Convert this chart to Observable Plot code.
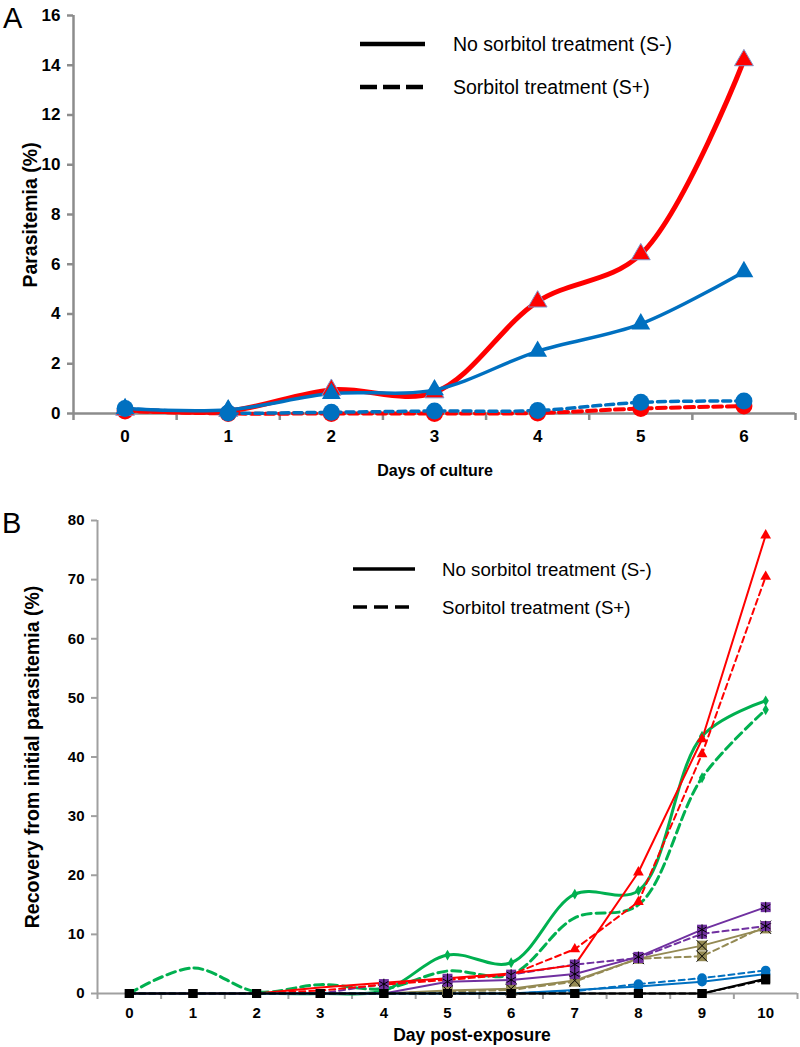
<!DOCTYPE html>
<html><head><meta charset="utf-8">
<script src="https://cdn.jsdelivr.net/npm/d3@7"></script>
<script src="https://cdn.jsdelivr.net/npm/@observablehq/plot@0.6"></script>
<style>
body{margin:0;background:#fff}
#wrap{position:relative;width:800px;height:1047px;font-family:"Liberation Sans",Arial,sans-serif}
#wrap svg{display:block}
#overlay{position:absolute;left:0;top:0;pointer-events:none}
</style>
</head><body>
<div id="wrap"><div id="a"></div><div id="b"></div></div>
<script>
// ---------- Panel A data ----------
const daysA = [0, 1, 2, 3, 4, 5, 6];
const aRedSolid  = [0.15, 0.10, 0.95, 0.85, 4.5, 6.4, 14.2];
const aBlueSolid = [0.20, 0.15, 0.80, 0.95, 2.5, 3.6, 5.7];
const aRedDash   = [0.10, 0.00, 0.00, 0.00, 0.02, 0.20, 0.30];
const aBlueDash  = [0.20, 0.02, 0.05, 0.10, 0.12, 0.45, 0.50];
const ticksYA = [0, 2, 4, 6, 8, 10, 12, 14, 16];

// ---------- Panel B data ----------
const daysB = [0, 1, 2, 3, 4, 5, 6, 7, 8, 9, 10];
const bRedSolid    = [0, 0, 0, 1.0, 1.8, 2.6, 3.4, 4.8, 20.5, 43.0, 77.5];
const bRedDash     = [0, 0, 0, 0.5, 1.5, 2.3, 3.2, 7.5, 15.5, 40.5, 70.5];
const bGreenSolid  = [0, 0, 0, 0, 0.5, 6.5, 5.2, 16.8, 17.4, 43.5, 49.5];
const bGreenDash   = [0, 4.3, 0.3, 1.5, 0.8, 3.8, 3.2, 12.8, 15.0, 36.5, 48.0];
const bPurpleSolid = [0, 0, 0, 0, 0, 2.0, 2.3, 3.3, 6.2, 10.8, 14.6];
const bPurpleDash  = [0, 0, 0, 0, 1.6, 2.5, 3.2, 4.9, 6.0, 10.1, 11.4];
const bTanSolid    = [0, 0, 0, 0, 0, 0.5, 0.8, 2.2, 5.9, 8.1, 11.0];
const bTanDash     = [0, 0, 0, 0, 0, 0.3, 0.6, 2.0, 5.9, 6.3, 11.4];
const bBlueSolid   = [0, 0, 0, 0, 0, 0, 0, 0.6, 1.2, 2.0, 3.3];
const bBlueDash    = [0, 0, 0, 0, 0, 0, 0, 0.4, 1.6, 2.6, 3.9];
const bBlackSolid  = [0, 0, 0, 0, 0, 0, 0, 0, 0, 0, 2.5];
const bBlackDash   = [0, 0, 0, 0, 0, 0, 0, 0, 0, 0, 2.3];
const ticksYB = [0, 10, 20, 30, 40, 50, 60, 70, 80];

const legendLabels = ["No sorbitol treatment (S-)", "Sorbitol treatment (S+)"];

// ---------- styles ----------
const RED = "#FF0000", BLUE = "#0070C0", GREEN = "#00B050", PURPLE = "#7030A0", TAN = "#948A54";
const FONT = "'Liberation Sans', Arial, sans-serif";
const fmtInt = d3.format("d");
const rows = (days, vals) => days.map((d, i) => ({day: d, value: vals[i]}));

const seriesA = [
  {vals: aRedDash,   color: RED,  width: 4,   dash: "9,5", symbol: "circle",   r: 8.5, stroke: "none"},
  {vals: aBlueDash,  color: BLUE, width: 3.5, dash: "8,5", symbol: "circle",   r: 8.5, stroke: "none"},
  {vals: aRedSolid,  color: RED,  width: 5,   dash: null,  symbol: "triangle", r: 7,   stroke: "#7f93c8"},
  {vals: aBlueSolid, color: BLUE, width: 3.5, dash: null,  symbol: "triangle", r: 7,   stroke: "none"}
];

const axisGrayA = "#8c8c8c";
const marksA = [
  Plot.ruleX([-0.5], {y1: 0, y2: 16, stroke: axisGrayA, strokeWidth: 2.5}),
  Plot.ruleY([0], {x1: -0.5, x2: 6.5, stroke: axisGrayA, strokeWidth: 2.5}),
  Plot.axisY({ticks: ticksYA, tickSize: 6, tickPadding: 7, tickFormat: fmtInt, stroke: axisGrayA, strokeWidth: 2.5,
              fontSize: 17, fontWeight: "bold", fill: "#000", label: null}),
  Plot.axisX({ticks: [-0.5, 0.5, 1.5, 2.5, 3.5, 4.5, 5.5, 6.5], tickSize: 7, tickFormat: () => "",
              stroke: axisGrayA, strokeWidth: 2.5, label: null}),
  Plot.axisX({ticks: daysA, tickSize: 0, tickPadding: 16, tickFormat: fmtInt, fontSize: 17, fontWeight: "bold",
              fill: "#000", label: null})
];
for (const s of seriesA) {
  marksA.push(Plot.line(rows(daysA, s.vals), {x: "day", y: "value", stroke: s.color, strokeWidth: s.width,
    strokeDasharray: s.dash, curve: "catmull-rom"}));
}
for (const idx of [0, 2, 1, 3]) {
  const s = seriesA[idx];
  marksA.push(Plot.dot(rows(daysA, s.vals), {x: "day", y: "value", symbol: s.symbol, r: s.r,
    fill: s.color, stroke: s.stroke, strokeWidth: 1}));
}

const plotA = Plot.plot({
  width: 800, height: 480, marginTop: 15, marginBottom: 67, marginLeft: 73, marginRight: 5,
  x: {domain: [-0.5, 6.5]}, y: {domain: [0, 16]},
  style: {fontFamily: FONT, fontSize: "17px", fontWeight: "bold", background: "#fff", color: "#000", overflow: "visible"},
  marks: marksA
});
document.getElementById("a").appendChild(plotA);

// ---------- Panel B ----------
const seriesB = [
  {vals: bGreenDash,   color: GREEN,  width: 3,   dash: "9,5", curve: "catmull-rom", symbol: "diamond", r: 3.3, from: 9},
  {vals: bGreenSolid,  color: GREEN,  width: 3,   dash: null,  curve: "catmull-rom", symbol: "diamond", r: 3.3, from: 5},
  {vals: bTanDash,     color: TAN,    width: 2,   dash: "6,4", curve: "linear", symbol: "square", r: 5.6, from: 5, over: "times"},
  {vals: bTanSolid,    color: TAN,    width: 2,   dash: null,  curve: "linear", symbol: "square", r: 5.6, from: 5, over: "times"},
  {vals: bPurpleDash,  color: PURPLE, width: 2,   dash: "6,4", curve: "linear", symbol: "square", r: 5.6, from: 4, over: "asterisk"},
  {vals: bPurpleSolid, color: PURPLE, width: 2,   dash: null,  curve: "linear", symbol: "square", r: 5.6, from: 5, over: "asterisk"},
  {vals: bRedDash,     color: RED,    width: 2,   dash: "6,4", curve: "linear", symbol: "triangle", r: 4, from: 7},
  {vals: bRedSolid,    color: RED,    width: 2,   dash: null,  curve: "linear", symbol: "triangle", r: 4, from: 8},
  {vals: bBlueDash,    color: BLUE,   width: 2,   dash: "6,4", curve: "linear", symbol: "circle", r: 4.8, from: 8},
  {vals: bBlueSolid,   color: BLUE,   width: 2,   dash: null,  curve: "linear", symbol: "circle", r: 4.8, from: 8},
  {vals: bBlackDash,   color: "#000", width: 2,   dash: "6,4", curve: "linear", symbol: "square", r: 5.1, from: 0},
  {vals: bBlackSolid,  color: "#000", width: 2,   dash: null,  curve: "linear", symbol: "square", r: 5.1, from: 0}
];
const axisGrayB = "#a0a0a0";
const marksB = [
  Plot.ruleX([-0.5], {y1: 0, y2: 80, stroke: axisGrayB, strokeWidth: 2}),
  Plot.ruleY([0], {x1: -0.5, x2: 10.5, stroke: axisGrayB, strokeWidth: 2}),
  Plot.axisY({ticks: ticksYB, tickSize: 6, tickPadding: 7, tickFormat: fmtInt, stroke: axisGrayB, strokeWidth: 2,
              fontSize: 15, fontWeight: "bold", fill: "#000", label: null}),
  Plot.axisX({ticks: [-0.5, 0.5, 1.5, 2.5, 3.5, 4.5, 5.5, 6.5, 7.5, 8.5, 9.5, 10.5], tickSize: 6,
              tickFormat: () => "", stroke: axisGrayB, strokeWidth: 2, label: null}),
  Plot.axisX({ticks: daysB, tickSize: 0, tickPadding: 14, tickFormat: fmtInt, fontSize: 15, fontWeight: "bold",
              fill: "#000", label: null})
];
for (const s of seriesB) {
  marksB.push(Plot.line(rows(daysB, s.vals), {x: "day", y: "value", stroke: s.color, strokeWidth: s.width,
    strokeDasharray: s.dash, curve: s.curve}));
}
for (const s of seriesB) {
  const pts = rows(daysB, s.vals).filter(d => d.day >= s.from);
  marksB.push(Plot.dot(pts, {x: "day", y: "value", symbol: s.symbol, r: s.r, fill: s.color, stroke: "none"}));
  if (s.over) marksB.push(Plot.dot(pts, {x: "day", y: "value", symbol: s.over, r: s.r * 0.9,
    stroke: "#000", strokeWidth: 1, fill: "none"}));
}
const plotB = Plot.plot({
  width: 800, height: 567, marginTop: 40, marginBottom: 54, marginLeft: 97, marginRight: 3,
  x: {domain: [-0.5, 10.5]}, y: {domain: [0, 80]},
  style: {fontFamily: FONT, fontSize: "15px", fontWeight: "bold", background: "#fff", color: "#000", overflow: "visible"},
  marks: marksB
});
document.getElementById("b").appendChild(plotB);

// ---------- labels & legends overlay ----------
const ov = d3.select("#wrap").append("svg").attr("id", "overlay")
  .attr("width", 800).attr("height", 1047).style("font-family", FONT);
ov.append("text").attr("x", 3).attr("y", 28).attr("font-size", 29).text("A");
ov.append("text").attr("x", 2).attr("y", 533).attr("font-size", 29).text("B");
ov.append("text").attr("transform", "translate(37,215) rotate(-90)").attr("text-anchor", "middle")
  .attr("font-size", 19.5).attr("font-weight", "bold").text("Parasitemia (%)");
ov.append("text").attr("x", 435).attr("y", 476).attr("text-anchor", "middle")
  .attr("font-size", 16).attr("font-weight", "bold").text("Days of culture");
ov.append("text").attr("transform", "translate(39,757) rotate(-90)").attr("text-anchor", "middle")
  .attr("font-size", 19.5).attr("font-weight", "bold").text("Recovery from initial parasitemia (%)");
ov.append("text").attr("x", 472).attr("y", 1041).attr("text-anchor", "middle")
  .attr("font-size", 17.5).attr("font-weight", "bold").text("Day post-exposure");

function legend(x1, x2, tx, ys, fs, sw, dash) {
  ys.forEach((y, i) => {
    ov.append("line").attr("x1", x1).attr("x2", x2).attr("y1", y).attr("y2", y)
      .attr("stroke", "#000").attr("stroke-width", sw).attr("stroke-dasharray", i ? dash : null);
    ov.append("text").attr("x", tx).attr("y", y).attr("dy", "0.35em").attr("font-size", fs).text(legendLabels[i]);
  });
}
legend(360, 425, 453, [44, 87], 19.5, 4.5, "17,6");
legend(353, 415, 442, [569, 607], 18.7, 3.5, "14,7");
</script>
</body></html>
